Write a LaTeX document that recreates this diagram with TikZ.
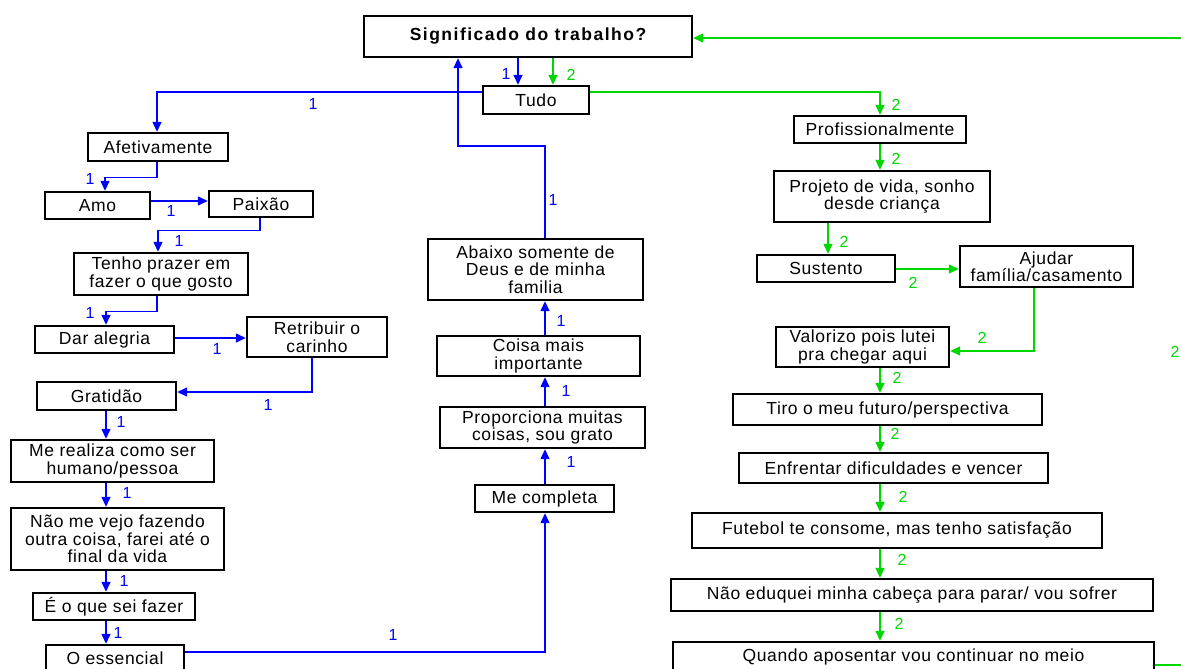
\documentclass[tikz,border=0pt]{standalone}
\usepackage{fontspec}
\setmainfont[LetterSpace=3.5]{Liberation Sans}
\newfontfamily\titlefont[LetterSpace=8.5]{Liberation Sans}
\usetikzlibrary{arrows.meta}
\definecolor{lnblue}{RGB}{0,0,255}
\definecolor{lngreen}{RGB}{0,214,0}
\begin{document}
\begin{tikzpicture}[x=1pt,y=-1pt,
  box/.style={draw=black, line width=2.4pt, fill=white, inner sep=0pt, align=center,
    font=\fontsize{17.5}{17.5}\selectfont},
  bl/.style={draw=lnblue, line width=1.4pt},
  gr/.style={draw=lngreen, line width=1.4pt},
  tip/.style={-{Triangle[length=10pt,width=9pt]}},
  bnum/.style={text=lnblue, inner sep=0pt, font=\fontsize{16}{16}\selectfont},
  gnum/.style={text=lngreen, inner sep=0pt, font=\fontsize{16}{16}\selectfont}]

\useasboundingbox (0,0) rectangle (1181,669);
\fill[white] (0,0) rectangle (1181,669);
\begin{scope}
\clip (0,0) rectangle (1181,669);

% ---- boxes ----
\node[box, minimum width=328pt, minimum height=41pt, font=\titlefont\bfseries\fontsize{17.5}{17.5}\selectfont] (title) at (528,36.5) {Significado do trabalho?};
\node[box, minimum width=106pt, minimum height=28pt] (tudo) at (536,100) {Tudo};

% left branch
\node[box, minimum width=140pt, minimum height=28pt] (afet) at (158,147) {Afetivamente};
\node[box, minimum width=105pt, minimum height=27pt] (amo) at (97.5,205.5) {Amo};
\node[box, minimum width=104pt, minimum height=26pt] (paixao) at (261,204) {Paixão};
\node[box, minimum width=174pt, minimum height=42pt] (tenho) at (161,274) {Tenho prazer em\\fazer o que gosto};
\node[box, minimum width=139pt, minimum height=27pt] (dar) at (104.5,339.5) {Dar alegria};
\node[box, minimum width=140pt, minimum height=40pt] (retrib) at (317,337) {Retribuir o\\carinho};
\node[box, minimum width=139pt, minimum height=28pt] (grat) at (106.5,396) {Gratidão};
\node[box, minimum width=203pt, minimum height=42pt] (mereal) at (112.5,461) {Me realiza como ser\\humano/pessoa};
\node[box, minimum width=213pt, minimum height=62pt] (naome) at (117.5,539) {Não me vejo fazendo\\outra coisa, farei até o\\final da vida};
\node[box, minimum width=162pt, minimum height=27pt] (eoque) at (114,606.5) {É o que sei fazer};
\node[box, minimum width=138pt, minimum height=26pt] (essenc) at (115,658) {O essencial};

% middle branch
\node[box, minimum width=139pt, minimum height=27pt] (mecomp) at (544.5,498.5) {Me completa};
\node[box, minimum width=205pt, minimum height=41pt] (propor) at (542.5,427.5) {Proporciona muitas\\coisas, sou grato};
\node[box, minimum width=203pt, minimum height=40pt] (coisa) at (538.5,356) {Coisa mais\\importante};
\node[box, minimum width=215pt, minimum height=61pt] (abaixo) at (535.5,269.5) {Abaixo somente de\\Deus e de minha\\familia};

% right branch
\node[box, minimum width=172pt, minimum height=27pt] (profis) at (880,129.5) {Profissionalmente};
\node[box, minimum width=216pt, minimum height=51pt] (projeto) at (882,196.5) {Projeto de vida, sonho\\desde criança};
\node[box, minimum width=138pt, minimum height=27pt] (sust) at (826,268.5) {Sustento};
\node[box, minimum width=173pt, minimum height=41pt] (ajudar) at (1046.5,266.5) {Ajudar\\família/casamento};
\node[box, minimum width=173pt, minimum height=40pt] (valor) at (862.5,347) {Valorizo pois lutei\\pra chegar aqui};
\node[box, minimum width=309pt, minimum height=31pt] (tiro) at (887.5,409.5) {Tiro o meu futuro/perspectiva};
\node[box, minimum width=309pt, minimum height=30pt] (enfr) at (893.5,468) {Enfrentar dificuldades e vencer};
\node[box, minimum width=410pt, minimum height=35pt] (futeb) at (897,530.5) {Futebol te consome, mas tenho satisfação};
\node[box, minimum width=482pt, minimum height=32pt] (naoed) at (912,595) {Não eduquei minha cabeça para parar/ vou sofrer};
\node[box, minimum width=481pt, minimum height=30pt] (quando) at (913.5,657) {Quando aposentar vou continuar no meio};

% ---- routing columns and rows ----
\coordinate (cB) at (518,0);
\coordinate (cG) at (553,0);
\coordinate (yTop) at (0,92);
\coordinate (cUp) at (458,0);
\coordinate (yUp) at (0,146);
\coordinate (cMid) at (545,0);
\coordinate (cAf) at (157,0);
\coordinate (cL) at (106,0);
\coordinate (cAmo) at (105,0);
\coordinate (cPx) at (260,0);
\coordinate (cTn) at (158,0);
\coordinate (yAm) at (0,201);
\coordinate (yDar) at (0,338);
\coordinate (cRt) at (312,0);
\coordinate (yGr) at (0,392);
\coordinate (yEs) at (0,652);
\coordinate (cR) at (880,0);
\coordinate (cPj) at (828,0);
\coordinate (ySu) at (0,269);
\coordinate (cAj) at (1034,0);
\coordinate (yVa) at (0,351);
\coordinate (yQu) at (0,665);
\coordinate (yT) at (0,38);
\coordinate (outQ) at (1195,665);
\coordinate (outT) at (1195,38);

% ---- blue connectors (1) ----
\draw[bl,tip] (title.south -| cB) -- (tudo.north -| cB);
\draw[bl,tip] (tudo.west |- yTop) -| (afet.north -| cAf);
\draw[bl,tip] (afet.south -| cAf) -- ++(0,15) -| (amo.north -| cAmo);
\draw[bl,tip] (amo.east |- yAm) -- (paixao.west |- yAm);
\draw[bl,tip] (paixao.south -| cPx) -- ++(0,12) -| (tenho.north -| cTn);
\draw[bl,tip] (tenho.south -| cAf) -- ++(0,15) -| (dar.north -| cL);
\draw[bl,tip] (dar.east |- yDar) -- (retrib.west |- yDar);
\draw[bl,tip] (retrib.south -| cRt) |- (grat.east |- yGr);
\draw[bl,tip] (grat.south -| cL) -- (mereal.north -| cL);
\draw[bl,tip] (mereal.south -| cL) -- (naome.north -| cL);
\draw[bl,tip] (naome.south -| cL) -- (eoque.north -| cL);
\draw[bl,tip] (eoque.south -| cL) -- (essenc.north -| cL);
\draw[bl,tip] (essenc.east |- yEs) -| (mecomp.south -| cMid);
\draw[bl,tip] (mecomp.north -| cMid) -- (propor.south -| cMid);
\draw[bl,tip] (propor.north -| cMid) -- (coisa.south -| cMid);
\draw[bl,tip] (coisa.north -| cMid) -- (abaixo.south -| cMid);
\draw[bl,tip] (abaixo.north -| cMid) -- (cMid |- yUp) -- (cUp |- yUp) -- (title.south -| cUp);

% ---- green connectors (2) ----
\draw[gr,tip] (title.south -| cG) -- (tudo.north -| cG);
\draw[gr,tip] (tudo.east |- yTop) -| (profis.north -| cR);
\draw[gr,tip] (profis.south -| cR) -- (projeto.north -| cR);
\draw[gr,tip] (projeto.south -| cPj) -- (sust.north -| cPj);
\draw[gr,tip] (sust.east |- ySu) -- (ajudar.west |- ySu);
\draw[gr,tip] (ajudar.south -| cAj) |- (valor.east |- yVa);
\draw[gr,tip] (valor.south -| cR) -- (tiro.north -| cR);
\draw[gr,tip] (tiro.south -| cR) -- (enfr.north -| cR);
\draw[gr,tip] (enfr.south -| cR) -- (futeb.north -| cR);
\draw[gr,tip] (futeb.south -| cR) -- (naoed.north -| cR);
\draw[gr,tip] (naoed.south -| cR) -- (quando.north -| cR);
\draw[gr] (quando.east |- yQu) -- (outQ);
\draw[gr,tip] (outT) -- (title.east |- yT);

% ---- connector labels ----
\node[bnum] (l1)  at (506,74)  {1};
\node[bnum] (l2)  at (313,104) {1};
\node[bnum] (l3)  at (90,179)  {1};
\node[bnum] (l4)  at (171,211) {1};
\node[bnum] (l5)  at (179,241) {1};
\node[bnum] (l6)  at (90,313)  {1};
\node[bnum] (l7)  at (217,349) {1};
\node[bnum] (l8)  at (268,405) {1};
\node[bnum] (l9)  at (121,422) {1};
\node[bnum] (l10) at (127,493) {1};
\node[bnum] (l11) at (124,581) {1};
\node[bnum] (l12) at (118,633) {1};
\node[bnum] (l13) at (393,635) {1};
\node[bnum] (l14) at (571,462) {1};
\node[bnum] (l15) at (566,391) {1};
\node[bnum] (l16) at (561,321) {1};
\node[bnum] (l17) at (553,200) {1};

\node[gnum] (g1)  at (571,75)  {2};
\node[gnum] (g2)  at (896,105) {2};
\node[gnum] (g3)  at (896,159) {2};
\node[gnum] (g4)  at (844,242) {2};
\node[gnum] (g5)  at (913,283) {2};
\node[gnum] (g6)  at (982,338) {2};
\node[gnum] (g7)  at (897,378) {2};
\node[gnum] (g8)  at (895,434) {2};
\node[gnum] (g9)  at (903,497) {2};
\node[gnum] (g10) at (902,560) {2};
\node[gnum] (g11) at (899,624) {2};
\node[gnum] (g12) at (1175,352) {2};
\end{scope}
\end{tikzpicture}
\end{document}
